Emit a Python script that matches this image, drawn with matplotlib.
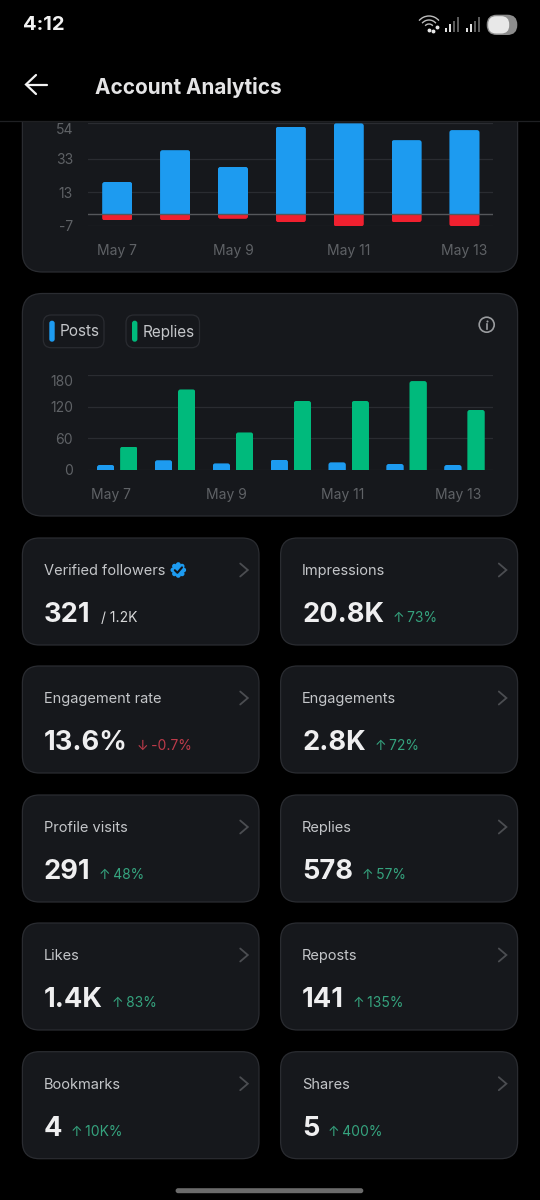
import numpy as np
import matplotlib
matplotlib.use("Agg")
import matplotlib.pyplot as plt
from matplotlib.patches import FancyBboxPatch, Rectangle, Arc, Circle
from matplotlib.transforms import Bbox, TransformedBbox

plt.rcParams["font.family"] = ["Inter", "DejaVu Sans"]

# Data
days = [0, 1, 2, 3, 4, 5, 6]
date_ticks = [0, 2, 4, 6]
date_labels = ["May 7", "May 9", "May 11", "May 13"]

top_positive = [19, 38, 28, 52, 54, 44, 50]
top_negative = [-4, -4, -3, -5, -7.5, -5, -7.5]
top_yticks = [-7, 13, 33, 54]

posts = [9, 18, 12, 19, 14, 11, 9]
replies = [44, 153, 71, 131, 131, 169, 114]
mid_yticks = [0, 60, 120, 180]

card_titles = ["Verified followers", "Impressions", "Engagement rate", "Engagements",
               "Profile visits", "Replies", "Likes", "Reposts", "Bookmarks", "Shares"]
card_values = ["321", "20.8K", "13.6%", "2.8K", "291", "578", "1.4K", "141", "4", "5"]
card_deltas = ["/ 1.2K", "↑\u200973%", "↓\u2009-0.7%", "↑\u200972%", "↑\u200948%", "↑\u200957%",
               "↑\u200983%", "↑\u2009135%", "↑\u200910K%", "↑\u2009400%"]

# Colours
BLACK = "#000000"
CARD = "#16181c"
EDGE = "#2a2c31"
GRID = "#2a2c31"
BLUE = "#1d9bf0"
RED = "#f0202f"
GREEN = "#00ba7c"
TICK = "#5f6266"
TITLE = "#c4c6c9"
UP = "#35a37e"
DOWN = "#bd3b4a"

W, H = 540, 1200
fig = plt.figure(figsize=(W / 100, H / 100), dpi=100, facecolor=BLACK)


def full_axes(zorder):
    a = fig.add_axes([0, 0, 1, 1], zorder=zorder)
    a.set_xlim(0, W)
    a.set_ylim(H, 0)
    a.axis("off")
    return a


def chart_axes(left, right, top, bottom):
    a = fig.add_axes([left / W, 1 - bottom / H, (right - left) / W, (bottom - top) / H], zorder=1)
    a.patch.set_alpha(0)
    for s in a.spines.values():
        s.set_visible(False)
    a.tick_params(length=0, labelsize=10, labelcolor=TICK, pad=0)
    return a


def card(a, x0, y0, x1, y1, radius=18):
    a.add_patch(FancyBboxPatch((x0, y0), x1 - x0, y1 - y0,
                               boxstyle=f"round,pad=0,rounding_size={radius}",
                               fc=CARD, ec=EDGE, lw=0.9))


def round_bars(a, bars, color, radius=2.5):
    # swap each square bar for one with round corners at the far end only
    box = a.get_position()
    x0, x1 = a.get_xlim()
    y0, y1 = a.get_ylim()
    rx = radius * (x1 - x0) / (box.width * W)
    ry = radius * (y1 - y0) / (box.height * H)
    for rect in bars:
        rect.set_visible(False)
        x, w = rect.get_x(), rect.get_width()
        ya, yb = sorted([rect.get_y(), rect.get_y() + rect.get_height()])
        lo = ya if ya < 0 else ya - 2 * ry
        hi = yb if yb > 0 else yb + 2 * ry
        p = FancyBboxPatch((x, lo), w, hi - lo,
                           boxstyle=f"round,pad=0,rounding_size={rx}",
                           mutation_aspect=ry / rx, fc=color, ec="none", zorder=3)
        a.add_patch(p)
        p.set_clip_path(None)
        p.set_clip_box(TransformedBbox(Bbox([[x, ya], [x + w, yb]]), a.transData))


def chevron(a, xc, yc, color="#4b4d51"):
    a.plot([xc - 3.8, xc + 3.8, xc - 3.8], [yc - 6.5, yc, yc + 6.5], color=color, lw=1.3,
           solid_capstyle="round", solid_joinstyle="miter")


bg = full_axes(0)
over = full_axes(2)

# Cards behind the charts
card(bg, 22.4, 60, 517.6, 272, radius=20)
card(bg, 22.4, 293.5, 517.6, 516, radius=20)

# Top chart
ax = chart_axes(88.3, 493.4, 123.4, 225.5)
ax.set_xlim(-0.5, 6.5)
ax.set_ylim(-7, 54)
ax.set_yticks(top_yticks, [str(t) for t in top_yticks])
ax.set_xticks(date_ticks, date_labels)
ax.tick_params(axis="x", pad=13)
ax.tick_params(axis="y", pad=11)
ax.get_yticklabels()[-1].set_verticalalignment("top")
ax.grid(axis="y", color=GRID, lw=0.9, zorder=0)
ax.set_axisbelow(True)
round_bars(ax, ax.bar(days, top_positive, width=0.52, color=BLUE), BLUE)
round_bars(ax, ax.bar(days, top_negative, width=0.52, color=RED), RED)
ax.axhline(0, color="#55575b", lw=1.0, zorder=4)

# Posts / replies chart
ax2 = chart_axes(88.3, 493.4, 375.3, 469.7)
ax2.set_xlim(-0.5, 6.5)
ax2.set_ylim(0, 180)
ax2.set_yticks(mid_yticks, [str(t) for t in mid_yticks])
ax2.set_xticks([d - 0.11 for d in date_ticks], date_labels)
ax2.tick_params(axis="x", pad=13)
ax2.tick_params(axis="y", pad=11)
ax2.get_yticklabels()[-1].set_verticalalignment("top")
ax2.grid(axis="y", color=GRID, lw=0.9, zorder=0)
ax2.set_axisbelow(True)
round_bars(ax2, ax2.bar([d - 0.2 for d in days], posts, width=0.3, color=BLUE), BLUE)
round_bars(ax2, ax2.bar([d + 0.2 for d in days], replies, width=0.3, color=GREEN), GREEN)

# Legend chips
for x0, x1, swatch, label, col in [(43.3, 104, 49.3, "Posts", BLUE), (126, 199.5, 132, "Replies", GREEN)]:
    bg.add_patch(FancyBboxPatch((x0, 315), x1 - x0, 32.7, boxstyle="round,pad=0,rounding_size=8",
                                fc=CARD, ec=EDGE, lw=0.9))
    bg.add_patch(FancyBboxPatch((swatch, 320.7), 5.4, 21, boxstyle="round,pad=0,rounding_size=2.6",
                                fc=col, ec="none"))
    bg.text(swatch + 10.6, 332, label, color=TITLE, fontsize=11, va="center", ha="left")

# Info icon
bg.add_patch(Circle((486.7, 324.7), 7.5, fc="none", ec="#9a9c9f", lw=1.2))
bg.plot([486.7, 486.7], [324.2, 329], color="#9a9c9f", lw=1.2)
bg.plot([486.7], [320.7], "o", color="#9a9c9f", ms=1.5, mew=0)

# Stat cards
renderer = fig.canvas.get_renderer()
row_tops = [538, 666, 795, 923, 1051.7]
for i, (title, value, delta) in enumerate(zip(card_titles, card_values, card_deltas)):
    x0, x1 = (22.4, 259) if i % 2 == 0 else (280.6, 517.6)
    top = row_tops[i // 2]
    card(bg, x0, top, x1, top + 107, radius=17)
    tx = x0 + 21.4
    bg.text(tx, top + 33, title, color=TITLE, fontsize=10.5, va="center", ha="left")
    val = bg.text(tx, top + 84, value, color="#efeff0", fontsize=19.6, fontweight="bold",
                  va="baseline", ha="left")
    end = bg.transData.inverted().transform(val.get_window_extent(renderer).p1)[0]
    col = DOWN if delta.startswith("↓") else UP
    gap = 9
    if delta.startswith("/"):
        col = "#d6d7d8"
        gap = 11
    bg.text(end + gap, top + 84, delta, color=col, fontsize=10, va="baseline", ha="left")
    chevron(bg, x1 - 15, top + 32)

# Verified badge
for ang in np.arange(0, 360, 45):
    bg.add_patch(Circle((178.3 + 5.4 * np.cos(np.radians(ang)), 570 + 5.4 * np.sin(np.radians(ang))),
                        2.4, fc=BLUE, ec="none"))
bg.add_patch(Circle((178.3, 570), 6, fc=BLUE, ec="none"))
bg.plot([174.8, 177.4, 182], [570.2, 572.8, 567.4], color="#10141a", lw=1.5,
        solid_capstyle="round")

# Header covers the top of the first card
over.add_patch(Rectangle((0, 0), W, 121, fc=BLACK, ec="none"))
over.plot([0, W], [121, 121], color="#1f2023", lw=0.9)
over.text(22.7, 25.5, "4:12", color="#f2f2f2", fontsize=14.5, fontweight="bold", va="center", ha="left")
over.text(94.7, 87, "Account Analytics", color="#e4e4e5", fontsize=14.9, fontweight="bold",
          va="center", ha="left")
over.plot([26.5, 47], [84.5, 84.5], color="#f2f2f2", lw=1.6, solid_capstyle="round")
over.plot([36, 26, 36], [75, 84.5, 94], color="#f2f2f2", lw=1.6, solid_capstyle="round",
          solid_joinstyle="miter")

# Status icons
for r in (5, 9, 13):
    over.add_patch(Arc((429, 29), 2 * r, 2 * r, theta1=220, theta2=320, color="#bdbdbd", lw=1.0))
over.plot([429, 433, 437], [30, 30.5, 27], "o", color="#e8e8e8", ms=1.8)
for start in (446, 467):
    for k, h in enumerate((4, 7.5, 11, 14.5)):
        over.plot([start + 4 * k] * 2, [31.5, 31.5 - h], color="#e8e8e8" if k < 2 else "#5e5e5e",
                  lw=1.4, solid_capstyle="butt")
over.add_patch(FancyBboxPatch((486.7, 14.7), 30.6, 20.3, boxstyle="round,pad=0,rounding_size=10",
                              fc="#8c8c8c", ec="none"))
over.add_patch(FancyBboxPatch((488.2, 16.2), 21, 17.3, boxstyle="round,pad=0,rounding_size=8",
                              fc="#e8e8e8", ec="none"))

# Home indicator
over.add_patch(FancyBboxPatch((175.6, 1188.2), 187.7, 5, boxstyle="round,pad=0,rounding_size=2.5",
                              fc="#6b6b6b", ec="none"))

fig.savefig("out.png", dpi=100, facecolor=BLACK)
